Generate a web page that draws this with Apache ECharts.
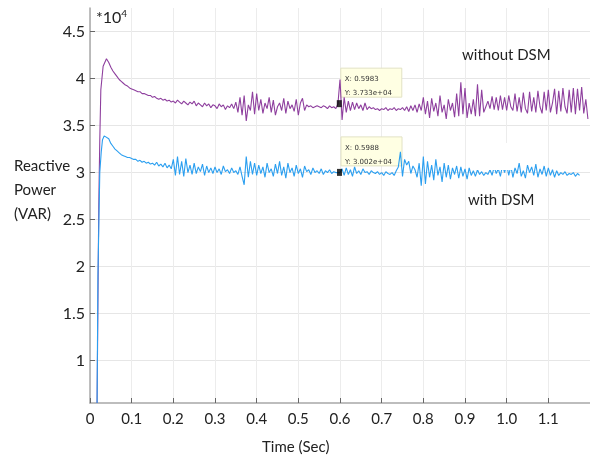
<!DOCTYPE html>
<html>
<head>
<meta charset="utf-8">
<title>Reactive Power</title>
<script src="https://cdn.jsdelivr.net/npm/echarts@6/dist/echarts.min.js"></script>
<style>
  html, body { margin: 0; padding: 0; background: #fff; }
  #chart { width: 590px; height: 462px; }
</style>
</head>
<body>
<div id="chart"></div>
<script>
// values in units of 10^4 VAR
const yTicks = [1, 1.5, 2, 2.5, 3, 3.5, 4, 4.5]

// start-up transient, [time, value]
const withoutOnset = [[0.017, 0.55], [0.019, 1.6], [0.021, 2.64], [0.0235, 3.35], [0.026, 3.88], [0.0315, 4.13], [0.0395, 4.21]]
const withOnset = [[0.017, 0.55], [0.019, 1.9], [0.0235, 3.0], [0.027, 3.22], [0.030, 3.35], [0.034, 3.39], [0.038, 3.41]]

// sampled every 5 ms starting at 45 ms
const bodyStart = 0.045
const bodyStep = 0.005
const withoutDSM = [
  4.17, 4.12, 4.08, 4.05, 4.02, 3.99, 3.97, 3.95, 3.93, 3.92, 3.90,
  3.89, 3.88, 3.87, 3.86, 3.86, 3.84, 3.84, 3.83, 3.82, 3.82, 3.80, 3.81, 3.79, 3.78, 3.79, 3.77, 3.78, 3.76, 3.77, 3.75,
  3.76, 3.74, 3.77, 3.75, 3.73, 3.76, 3.74, 3.72, 3.75, 3.73, 3.76, 3.71, 3.74, 3.72, 3.70, 3.74, 3.71, 3.73, 3.69, 3.72,
  3.71, 3.68, 3.73, 3.70, 3.72, 3.67, 3.71, 3.69, 3.73, 3.68,
  3.75, 3.64, 3.80, 3.61, 3.82, 3.55, 3.72, 3.66, 3.86, 3.62, 3.84, 3.66, 3.78, 3.63, 3.74, 3.68, 3.80, 3.64, 3.77, 3.61,
  3.70, 3.74, 3.66, 3.79, 3.63, 3.76, 3.68, 3.72, 3.65, 3.78, 3.61, 3.74, 3.79, 3.66, 3.72, 3.70, 3.71, 3.69, 3.70, 3.71,
  3.70, 3.69, 3.71, 3.70, 3.68, 3.71, 3.69, 3.70, 3.68, 3.73, 3.99, 3.56, 3.80, 3.64, 3.76, 3.66, 3.75, 3.67, 3.74, 3.68,
  3.72, 3.66, 3.74, 3.67, 3.70, 3.68, 3.69, 3.67, 3.68, 3.66, 3.68, 3.67, 3.69, 3.66, 3.68, 3.67, 3.69, 3.66, 3.68, 3.67,
  3.69, 3.66, 3.70, 3.65, 3.71, 3.66, 3.72, 3.64, 3.73, 3.66,
  3.80, 3.62, 3.76, 3.58, 3.79, 3.65, 3.74, 3.60, 3.82, 3.64, 3.72, 3.57, 3.78, 3.66, 3.74, 3.59, 3.84, 3.60, 3.96, 3.62,
  3.90, 3.58, 3.74, 3.62, 3.78, 3.60, 3.94, 3.60, 3.88, 3.64, 3.70, 3.76, 3.68, 3.81, 3.67, 3.80, 3.66, 3.82, 3.67, 3.80,
  3.66, 3.82, 3.70, 3.66, 3.84, 3.65, 3.80, 3.64, 3.85, 3.68, 3.63, 3.86, 3.65, 3.80, 3.64, 3.87, 3.70, 3.63, 3.86, 3.66,
  3.88, 3.64, 3.74, 3.89, 3.62, 3.87, 3.65, 3.90, 3.70, 3.63, 3.88, 3.64, 3.90, 3.62, 3.89, 3.66, 3.91, 3.63, 3.78, 3.57
]
const withDSM = [
  3.36, 3.31, 3.28, 3.25, 3.23, 3.21, 3.19, 3.18, 3.17, 3.16, 3.16,
  3.15, 3.14, 3.14, 3.12, 3.13, 3.11, 3.12, 3.10, 3.11, 3.09, 3.10, 3.08, 3.11, 3.07, 3.09, 3.06, 3.10, 3.05, 3.08, 3.04,
  3.14, 2.97, 3.17, 2.98, 3.12, 2.96, 3.15, 3.00, 3.08, 2.98, 3.10, 2.99, 3.06, 3.01, 3.09, 2.97, 3.07, 3.00, 3.05, 2.99,
  3.06, 3.00, 3.04, 2.98, 3.07, 3.01, 3.03, 2.99, 3.05, 3.00, 3.02, 2.98, 3.06, 2.96, 2.87, 3.17, 2.95, 3.12, 2.98, 3.10,
  2.97, 3.08, 2.99, 3.06, 2.95, 3.10, 3.00, 3.04, 2.96, 3.09, 2.99, 3.12, 2.97, 3.06, 2.94, 3.10, 3.00, 3.05, 2.96, 3.08,
  2.99, 3.04, 2.95, 3.07, 3.01, 3.03, 2.98, 3.05, 3.00, 3.02, 2.99, 3.04, 2.98, 3.02, 3.00, 3.03, 2.99, 3.01, 3.00, 3.00,
  3.00, 3.04, 2.97, 3.05, 2.98, 3.03, 2.96, 3.06, 2.99, 3.02, 2.98, 3.04, 3.00, 3.01, 2.98, 3.02, 3.00, 2.99, 3.01, 2.98,
  3.00, 2.97, 3.01, 2.99, 2.98, 3.00, 2.97, 3.02, 3.06, 3.22, 2.96, 3.14, 3.08, 3.12, 2.99, 3.07, 3.03, 2.95, 3.10, 2.86,
  3.17, 2.88, 3.12, 2.95, 3.08, 2.92, 3.14, 2.97, 3.06, 2.90, 3.10, 2.95, 3.08, 2.93, 3.05, 2.98, 3.07, 2.94, 3.06, 2.96,
  3.04, 2.93, 3.05, 2.97, 3.02, 2.96, 3.03, 2.98, 3.01, 2.97, 3.00, 2.98, 3.03, 2.97, 3.06, 2.99, 3.04, 2.96, 3.08, 3.00,
  3.09, 2.97, 3.07, 2.95, 3.05, 2.99, 3.10, 2.96, 3.02, 2.94, 3.08, 3.00, 3.06, 2.97, 3.09, 2.95, 3.04, 2.98, 3.07, 2.96,
  3.05, 2.97, 3.03, 2.95, 3.02, 2.97, 3.00, 2.98, 3.01, 2.97, 2.99, 2.98, 3.00, 2.96, 2.99, 2.97
]

// data cursor readouts shown on the figure
const tipX = [0.5983, 0.5988]
const tipY = [3.733, 3.002]
const tipLabels = [['X: 0.5983', 'Y: 3.733e+04'], ['X: 0.5988', 'Y: 3.002e+04']]

const toSeries = (onset, body) =>
  onset.concat(body.map((v, i) => [+(bodyStart + i * bodyStep).toFixed(3), v]))

const font = 'Lato, "Open Sans", sans-serif'
const chart = echarts.init(document.getElementById('chart'), null, {renderer: 'canvas'})

chart.setOption({
  animation: false,
  backgroundColor: '#ffffff',
  grid: {left: 90, top: 8, width: 501, height: 395},
  xAxis: {
    type: 'value',
    min: 0,
    max: 1.2,
    interval: 0.1,
    axisLine: {lineStyle: {color: '#a8a8a8', width: 1.5}},
    axisTick: {inside: true, length: 5, lineStyle: {color: '#666'}},
    axisLabel: {
      color: '#222', fontFamily: font, fontSize: 15, margin: 9, showMaxLabel: false,
      formatter: v => (v === 0 ? '0' : v.toFixed(1))
    },
    splitLine: {show: true, lineStyle: {color: '#ececec'}}
  },
  yAxis: {
    type: 'value',
    min: 0.55,
    max: 4.75,
    axisLine: {show: true, lineStyle: {color: '#a8a8a8', width: 1.5}},
    axisTick: {show: true, inside: true, length: 5, customValues: yTicks, lineStyle: {color: '#666'}},
    axisLabel: {color: '#222', fontFamily: font, fontSize: 16, margin: 5, customValues: yTicks},
    splitLine: {show: true, lineStyle: {color: '#e6e6e6'}}
  },
  series: [
    {
      name: 'without DSM', type: 'line', showSymbol: false, z: 3,
      lineStyle: {color: '#8e3f9e', width: 1.1},
      data: toSeries(withoutOnset, withoutDSM)
    },
    {
      name: 'with DSM', type: 'line', showSymbol: false, z: 3,
      lineStyle: {color: '#2b9ff0', width: 1.1},
      data: toSeries(withOnset, withDSM)
    },
    {
      name: 'cursor', type: 'scatter', symbol: 'rect', symbolSize: [5, 7], z: 5,
      itemStyle: {color: '#000'},
      data: tipX.map((x, i) => [x, tipY[i]])
    }
  ]
})

// data tips, text labels and the white patch near "with DSM"
const graphics = []
tipX.forEach((x, i) => {
  const p = chart.convertToPixel({gridIndex: 0}, [x, tipY[i]])
  graphics.push({
    type: 'group', left: p[0] + 1, top: p[1] - 36, z: 10,
    children: [
      {type: 'rect', shape: {x: 0, y: 0, width: 61, height: 29},
        style: {fill: '#ffffe3', stroke: '#e2e2c4', lineWidth: 1}},
      {type: 'text', x: 4, y: 4,
        style: {text: tipLabels[i].join('\n'), fill: '#333', font: '7px "DejaVu Sans", sans-serif', lineHeight: 14}}
    ]
  })
})
graphics.push(
  {type: 'rect', left: 472, top: 143, z: 8, shape: {width: 41, height: 27}, style: {fill: '#fff'}},
  {type: 'text', left: 96, top: 9,
    style: {text: '{a|*10}{b|4}', rich: {a: {fontSize: 16, fontFamily: font, fill: '#222'}, b: {fontSize: 10, fontFamily: font, fill: '#222', verticalAlign: 'top', padding: [0, 0, 8, 0]}}}},
  {type: 'text', left: 14, top: 154,
    style: {text: 'Reactive\nPower\n(VAR)', font: '15px ' + font, fill: '#222', lineHeight: 24}},
  {type: 'text', left: 262, top: 440, style: {text: 'Time (Sec)', font: '15px ' + font, fill: '#222'}},
  {type: 'text', left: 462, top: 48, style: {text: 'without DSM', font: '15px ' + font, fill: '#222'}},
  {type: 'text', left: 468, top: 193, style: {text: 'with DSM', font: '15px ' + font, fill: '#222'}}
)
chart.setOption({graphic: graphics})
</script>
</body>
</html>
